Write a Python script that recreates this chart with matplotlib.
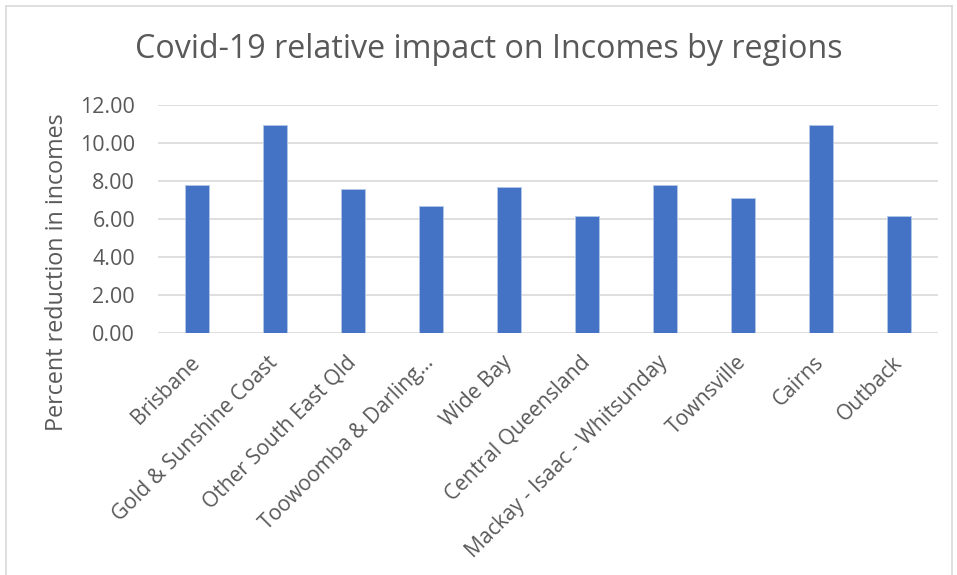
import matplotlib
matplotlib.use("Agg")
import matplotlib.pyplot as plt
from matplotlib.lines import Line2D

regions = ["Brisbane", "Gold & Sunshine Coast", "Other South East Qld",
           "Toowoomba & Darling\u2026", "Wide Bay", "Central Queensland",
           "Mackay - Isaac - Whitsunday", "Townsville", "Cairns", "Outback"]
reduction = [7.78, 10.94, 7.57, 6.67, 7.69, 6.17, 7.79, 7.09, 10.96, 6.14]
yticks = [0, 2, 4, 6, 8, 10, 12]

plt.rcParams['font.family'] = ['Open Sans', 'DejaVu Sans']
grey = '#595959'

W, H = 957, 575
fig = plt.figure(figsize=(W/100, H/100), dpi=100)
ax = fig.add_axes([158/W, 1-333/H, 780/W, 228/H])

x = list(range(len(regions)))
ax.bar(x, reduction, width=0.31, color='#4472C4', edgecolor='#B4C7E7', linewidth=0.6, zorder=3)
ax.set_xlim(-0.5, len(regions)-0.5)
ax.set_ylim(0, 12)
ax.set_yticks(yticks)
ax.set_yticklabels([f"{v:.2f}" for v in yticks], fontsize=15.5, color=grey)
ax.grid(axis='y', color='#D9D9D9', linewidth=1.2, zorder=0)
ax.set_xticks(x)
ax.set_xticklabels(regions, rotation=45, ha='right', va='center', rotation_mode='anchor',
                   fontsize=15.2, color=grey)
ax.tick_params(axis='both', length=0)
ax.tick_params(axis='y', pad=16.5)
ax.tick_params(axis='x', pad=19)
for s in ax.spines.values():
    s.set_visible(False)
ax.set_ylabel("Percent reduction in incomes", fontsize=16.8, color=grey)
ax.yaxis.set_label_coords((69-158)/780, (333-272)/228)

fig.text(489/W, 1-50/H, "Covid-19 relative impact on Incomes by regions",
         ha='center', va='center', fontsize=23.2, color=grey)

# outer chart border
fig.add_artist(Line2D([6/W, 6/W], [0, 1-6/H], color='#D9D9D9', lw=1.2, transform=fig.transFigure))
fig.add_artist(Line2D([6/W, 952/W], [1-6/H, 1-6/H], color='#D9D9D9', lw=1.2, transform=fig.transFigure))
fig.add_artist(Line2D([952/W, 952/W], [0, 1-6/H], color='#D9D9D9', lw=1.2, transform=fig.transFigure))

fig.savefig("out.png", dpi=100, facecolor='white')
